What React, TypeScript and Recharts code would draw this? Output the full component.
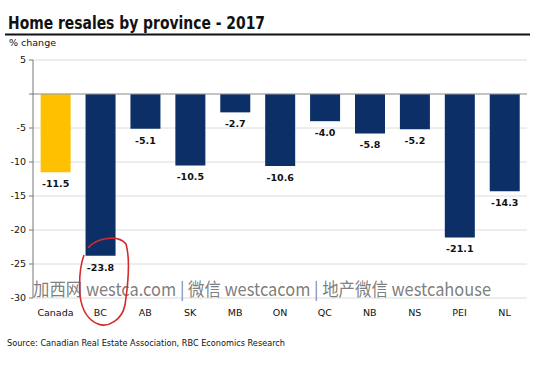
import React from "react";
import { BarChart, Bar, XAxis, YAxis, CartesianGrid, ReferenceLine, Cell, LabelList } from "recharts";

const provinces = ["Canada", "BC", "AB", "SK", "MB", "ON", "QC", "NB", "NS", "PEI", "NL"];
const resaleChange = [-11.5, -23.8, -5.1, -10.5, -2.7, -10.6, -4.0, -5.8, -5.2, -21.1, -14.3];
const yTicks = [5, 0, -5, -10, -15, -20, -25, -30];

const data = provinces.map((p, i) => ({ name: p, value: resaleChange[i] }));

const FONT = "'DejaVu Sans', Verdana, sans-serif";
const NAVY = "#0b2f66";
const GOLD = "#ffc000";

const ValueLabel = (props: any) => {
  const { x, y, width, height, value } = props;
  const bottom = Math.max(y, y + height);
  return (
    <text x={x + width / 2} y={bottom + 15} textAnchor="middle" fontFamily={FONT} fontSize={9.5} fontWeight="bold" fill="#111">
      {Number(value).toFixed(1)}
    </text>
  );
};

export default function App() {
  return (
    <div style={{ position: "absolute", left: 0, top: 0, width: 536, height: 370, background: "#fff" }}>
      <BarChart
        width={536}
        height={370}
        data={data}
        margin={{ top: 60, right: 9, bottom: 52, left: 0 }}
        barCategoryGap="17%"
      >
        <CartesianGrid vertical={false} stroke="#dcdcdc" />
        <XAxis
          dataKey="name"
          axisLine={false}
          tickLine={false}
          height={20}
          tickMargin={5}
          interval={0}
          tick={{ fontFamily: FONT, fontSize: 9.5, fill: "#111" }}
        />
        <YAxis
          width={33}
          domain={[-30, 5]}
          ticks={yTicks}
          interval={0}
          tickSize={4}
          tickMargin={3}
          axisLine={{ stroke: "#777" }}
          tickLine={{ stroke: "#777" }}
          tickFormatter={(v: number) => (v === 0 ? "" : String(v))}
          tick={{ fontFamily: FONT, fontSize: 9.5, fill: "#111" }}
        />
        <ReferenceLine y={0} stroke="#999" />
        <Bar dataKey="value" isAnimationActive={false}>
          {data.map((d, i) => (
            <Cell key={d.name} fill={i === 0 ? GOLD : NAVY} />
          ))}
          <LabelList dataKey="value" content={<ValueLabel />} />
        </Bar>
      </BarChart>
      <svg width={536} height={370} style={{ position: "absolute", left: 0, top: 0, pointerEvents: "none" }}>
        <text x={8} y={29} fontFamily={FONT} fontSize={17} fontWeight="bold" fill="#111" textLength={257} lengthAdjust="spacingAndGlyphs">
          Home resales by province - 2017
        </text>
        <line x1={5} y1={34.5} x2={530} y2={34.5} stroke="#111" strokeWidth={2} />
        <text x={9} y={46} fontFamily={FONT} fontSize={9.5} fill="#111">% change</text>
        <text x={7} y={346} fontFamily={FONT} fontSize={8} fill="#111" textLength={278} lengthAdjust="spacingAndGlyphs">
          Source: Canadian Real Estate Association, RBC Economics Research
        </text>
        <text x={33} y={296} fontFamily="'Noto Sans CJK SC', 'Noto Sans', sans-serif" fontSize={18} fill="#6e6e6e" fillOpacity={0.9} textLength={458} lengthAdjust="spacingAndGlyphs">
          加西网 westca.com | 微信 westcacom | 地产微信 westcahouse
        </text>
        <path
          d="M 88 248 C 96 238, 118 234, 126 244 C 130 258, 128 285, 125 305 C 122 320, 108 328, 98 324 C 88 320, 82 310, 80 296 C 79 282, 80 266, 84 255"
          fill="none"
          stroke="#d42a2a"
          strokeWidth={1.6}
        />
      </svg>
    </div>
  );
}
